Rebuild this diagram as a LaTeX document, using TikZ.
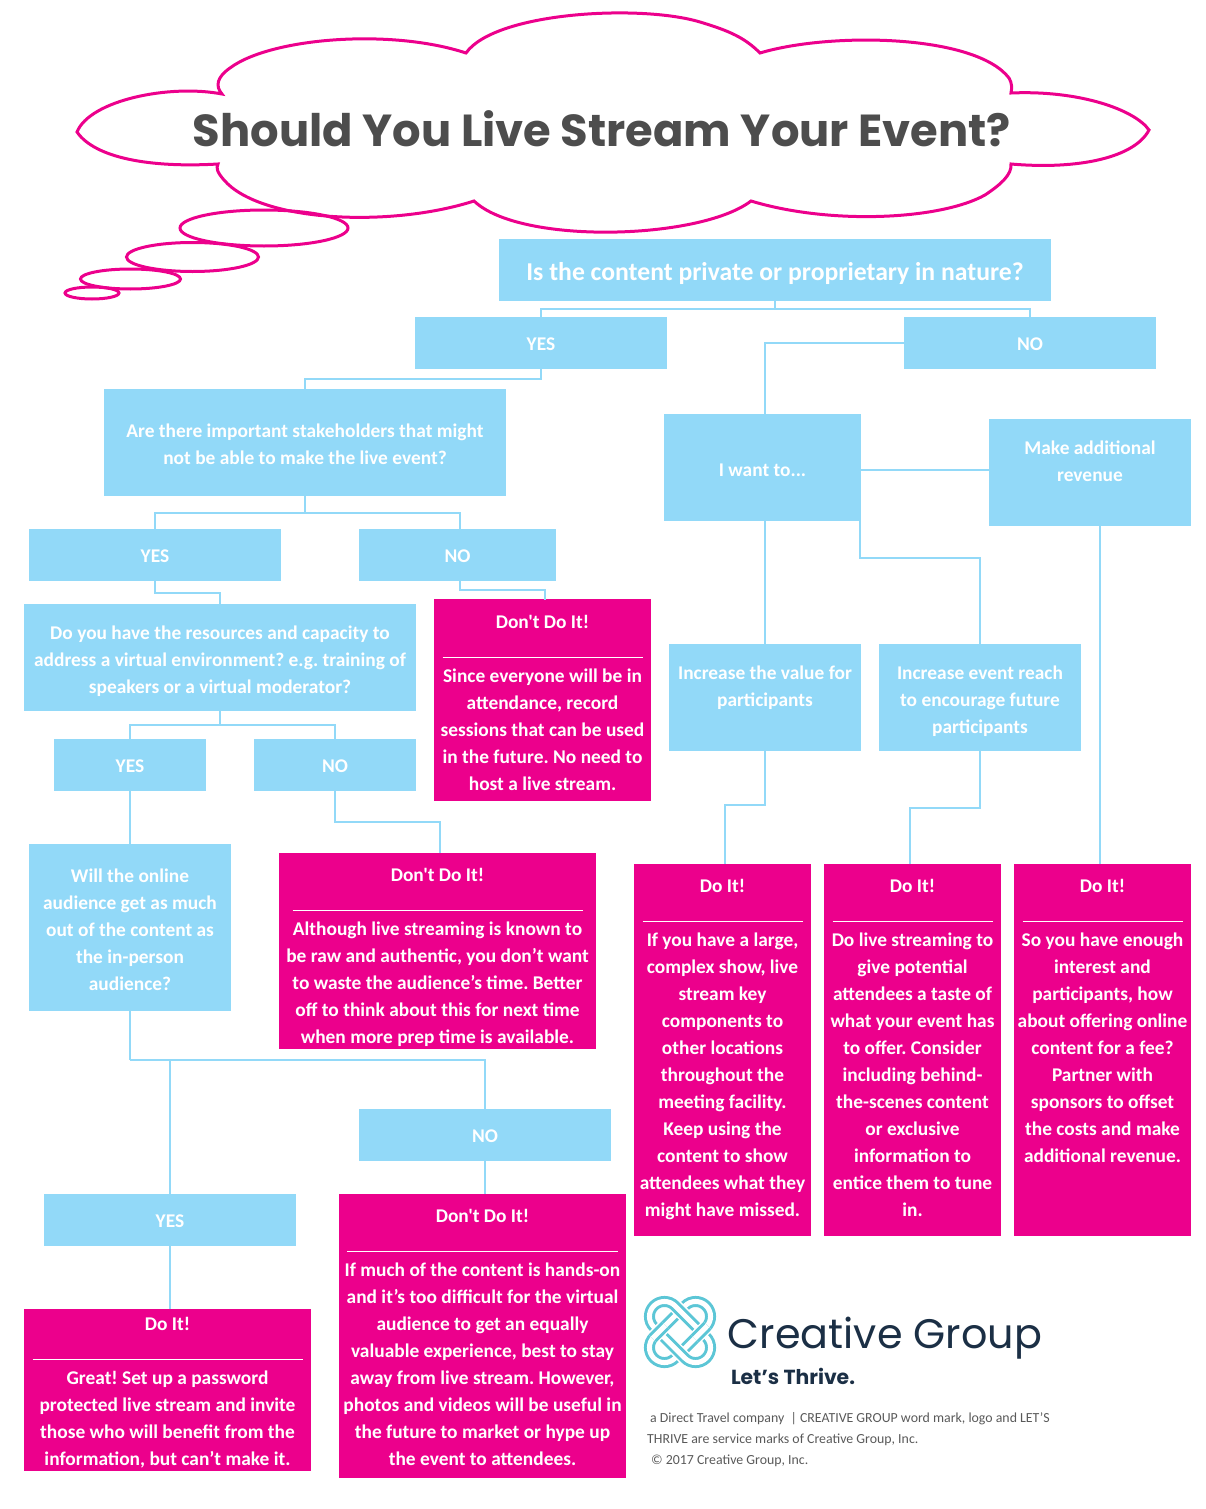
\documentclass[tikz,border=0pt]{standalone}
\usepackage{fontspec}
\setmainfont{Carlito}[Ligatures=TeXOff]
\newfontfamily\titlefont{Poppins}[WordSpace=1.6]
\newfontfamily\brandfont{Poppins}
\usetikzlibrary{calc}
\definecolor{skyb}{HTML}{92D9F8}
\definecolor{hotp}{HTML}{EC008C}
\definecolor{titleg}{HTML}{4D4D4D}
\definecolor{navyt}{HTML}{1B2F45}
\definecolor{tealk}{HTML}{5CC6D6}
\definecolor{footg}{HTML}{595959}
\tikzset{
  bluebox/.style={fill=skyb,text=white,font=\bfseries,inner sep=0pt,rectangle},
  pinkbox/.style={fill=hotp,text=white,font=\bfseries,inner sep=0pt,rectangle},
  conn/.style={draw=skyb,line width=1.8pt},
  cloudline/.style={draw=hotp,line width=3pt,line join=miter},
  foot/.style={text=footg,font=\fontsize{13.85}{16}\selectfont,anchor=base west,inner sep=0pt},
  ring/.style={rounded corners=15pt},
}
% style, name, x1, y1, x2, y2, centre y of first line, text
\newcommand{\bx}[8]{%
  \pgfmathsetmacro{\bxw}{#5-#3}%
  \pgfmathsetmacro{\bxh}{#6-#4}%
  \pgfmathsetmacro{\bxd}{#7+7-#4}%
  \node[#1] (#2) at ({(#3+#5)/2},{(#4+#6)/2}) {\parbox[c][\bxh pt][t]{\bxw pt}{\centering\frenchspacing\fontsize{19.4}{27}\selectfont\rule{0pt}{\bxd pt}#8\par}};%
}
\newcommand{\hr}[1]{\rule[-3pt]{#1pt}{1.3pt}}
\begin{document}
\begin{tikzpicture}[x=1pt,y=-1pt]
\useasboundingbox (0,0) rectangle (1205,1509);
% thought bubble
\draw[cloudline] (222,94) .. controls (215,86) and (217,77) .. (230,68)
  .. controls (270,38) and (390,28) .. (466,53)
  .. controls (495,12) and (640,4) .. (700,22)
  .. controls (730,31) and (745,38) .. (760,53)
  .. controls (830,32) and (975,34) .. (1009,78)
  .. controls (1012,83) and (1012,88) .. (1011,93)
  .. controls (1080,90) and (1135,110) .. (1149,130)
  .. controls (1135,157) and (1080,170) .. (1011,164)
  .. controls (1012,175) and (1000,185) .. (985,195)
  .. controls (940,220) and (830,225) .. (751,201)
  .. controls (700,240) and (520,245) .. (474,201)
  .. controls (390,228) and (260,222) .. (224,180)
  .. controls (217,172) and (216,168) .. (218,164)
  .. controls (150,168) and (95,158) .. (77,132)
  .. controls (90,100) and (170,84) .. (222,94) -- cycle;
\draw[cloudline] (264,228) ellipse [x radius=84,y radius=18];
\draw[cloudline] (192.5,257) ellipse [x radius=66,y radius=14.5];
\draw[cloudline] (130.5,279) ellipse [x radius=50,y radius=10];
\draw[cloudline] (92,293) ellipse [x radius=27,y radius=6];
\node[text=titleg,inner sep=0pt] (title) at (602,129) {\resizebox{818pt}{!}{\titlefont\bfseries Should You Live Stream Your Event?}};
% decisions
\bx{bluebox}{q1}{499}{239}{1051}{301}{273}{{\fontsize{25.7}{27}\selectfont Is the content private or proprietary in nature?\par}}
\bx{bluebox}{yes1}{415}{317}{667}{369}{343}{YES}
\bx{bluebox}{no1}{904}{317}{1156}{369}{343}{NO}
\bx{bluebox}{q2}{104}{389}{506}{496}{430}{Are there important stakeholders that might\\not be able to make the live event?}
\bx{bluebox}{iwant}{664}{414}{861}{521}{469}{I want to...}
\bx{bluebox}{make}{989}{419}{1191}{526}{447}{Make additional\\revenue}
\bx{bluebox}{yes2}{29}{529}{281}{581}{555}{YES}
\bx{bluebox}{no2}{359}{529}{556}{581}{555}{NO}
\bx{bluebox}{q3}{24}{604}{416}{711}{632}{Do you have the resources and capacity to\\address a virtual environment? e.g. training of\\speakers or a virtual moderator?}
\bx{bluebox}{value}{669}{644}{861}{751}{672}{Increase the value for\\participants}
\bx{bluebox}{reach}{879}{644}{1081}{751}{672}{Increase event reach\\to encourage future\\participants}
\bx{bluebox}{yes3}{54}{739}{206}{791}{765}{YES}
\bx{bluebox}{no3}{254}{739}{416}{791}{765}{NO}
\bx{bluebox}{q4}{29}{844}{231}{1011}{875}{Will the online\\audience get as much\\out of the content as\\the in-person\\audience?}
\bx{bluebox}{no4}{359}{1109}{611}{1161}{1135}{NO}
\bx{bluebox}{yes4}{44}{1194}{296}{1246}{1220}{YES}
% verdicts
\bx{pinkbox}{dont1}{434}{599}{651}{801}{621}{Don't Do It!\\\hr{200}\\Since everyone will be in\\attendance, record\\sessions that can be used\\in the future. No need to\\host a live stream.}
\bx{pinkbox}{dont2}{279}{853}{596}{1049}{874}{Don't Do It!\\\hr{290}\\Although live streaming is known to\\be raw and authentic, you don’t want\\to waste the audience’s time. Better\\off to think about this for next time\\when more prep time is available.}
\bx{pinkbox}{doit1}{634}{864}{811}{1236}{885}{Do It!\\\hr{160}\\If you have a large,\\complex show, live\\stream key\\components to\\other locations\\throughout the\\meeting facility.\\Keep using the\\content to show\\attendees what they\\might have missed.}
\bx{pinkbox}{doit2}{824}{864}{1001}{1236}{885}{Do It!\\\hr{160}\\Do live streaming to\\give potential\\attendees a taste of\\what your event has\\to offer. Consider\\including behind-\\the-scenes content\\or exclusive\\information to\\entice them to tune\\in.}
\bx{pinkbox}{doit3}{1014}{864}{1191}{1236}{885}{Do It!\\\hr{160}\\So you have enough\\interest and\\participants, how\\about offering online\\content for a fee?\\Partner with\\sponsors to offset\\the costs and make\\additional revenue.}
\bx{pinkbox}{dont3}{339}{1194}{626}{1478}{1215}{Don't Do It!\\\hr{271}\\If much of the content is hands-on\\and it’s too difficult for the virtual\\audience to get an equally\\valuable experience, best to stay\\away from live stream. However,\\photos and videos will be useful in\\the future to market or hype up\\the event to attendees.}
\bx{pinkbox}{doit4}{24}{1309}{311}{1471}{1323}{Do It!\\\hr{270}\\Great! Set up a password\\protected live stream and invite\\those who will benefit from the\\information, but can’t make it.}
% connectors
\draw[conn] (q1.south) -- ++(0,8) coordinate (s1);
\draw[conn] (yes1.north) |- (s1) -| (no1.north);
\draw[conn] (yes1.south) -- ++(0,10) -| (q2.north);
\coordinate (ix) at (765,0);
\draw[conn] (no1.west) -| (ix |- iwant.north);
\coordinate (ie) at (861,470);
\draw[conn] (ie) -- (ie -| make.west);
\draw[conn] (ix |- iwant.south) -- (ix |- value.north);
\draw[conn] ($(iwant.south east)+(-1,0)$) -- ++(0,37) -| (reach.north);
\coordinate (mx) at (1100,0);
\draw[conn] (mx |- make.south) -- (mx |- doit3.north);
\draw[conn] (value.south) -- ++(0,54) -| ($(doit1.north)+(2.5,0)$);
\draw[conn] (reach.south) -- ++(0,57) -| ($(doit2.north)+(-2.5,0)$);
\draw[conn] (q2.south) -- ++(0,17) coordinate (s2);
\coordinate (n2x) at (460,0);
\draw[conn] (yes2.north) |- (s2) -| (n2x |- no2.north);
\draw[conn] (yes2.south) -- ++(0,12) -| (q3.north);
\draw[conn] (n2x |- no2.south) -- ++(0,9) -| ($(dont1.north)+(2.5,1)$);
\draw[conn] (q3.south) -- ++(0,14) coordinate (s3);
\draw[conn] (yes3.north) |- (s3) -| (no3.north);
\draw[conn] (yes3.south) -- (q4.north);
\draw[conn] (no3.south) -- ++(0,31) -| ($(dont2.north)+(2.5,0)$);
\draw[conn] (q4.south) -- ++(0,49) coordinate (s4);
\draw[conn] (s4) -| (no4.north);
\draw[conn] (s4 -| yes4.north) -- (yes4.north);
\draw[conn] (no4.south) -- (no4.south |- dont3.north);
\draw[conn] (yes4.south) -- (yes4.south |- doit4.north);
% logo knot
\begin{scope}[shift={(680,1332)},rotate=45]
  \draw[white,line width=14pt,ring] (-37,-15) rectangle (37,15);
  \draw[tealk,line width=11pt,ring] (-37,-15) rectangle (37,15);
  \draw[white,line width=5pt,ring] (-37,-15) rectangle (37,15);
  \begin{scope}[rotate=90]
    \draw[white,line width=14pt,ring] (-37,-15) rectangle (37,15);
    \draw[tealk,line width=11pt,ring] (-37,-15) rectangle (37,15);
    \draw[white,line width=5pt,ring] (-37,-15) rectangle (37,15);
  \end{scope}
  \begin{scope}
    \clip (6,6) rectangle (24,24);
    \draw[white,line width=14pt,ring] (-37,-15) rectangle (37,15);
    \draw[tealk,line width=11pt,ring] (-37,-15) rectangle (37,15);
    \draw[white,line width=5pt,ring] (-37,-15) rectangle (37,15);
  \end{scope}
  \begin{scope}
    \clip (-24,-24) rectangle (-6,-6);
    \draw[white,line width=14pt,ring] (-37,-15) rectangle (37,15);
    \draw[tealk,line width=11pt,ring] (-37,-15) rectangle (37,15);
    \draw[white,line width=5pt,ring] (-37,-15) rectangle (37,15);
  \end{scope}
\end{scope}
\node[text=navyt,inner sep=0pt] (brand) at (885,1338) {\resizebox{314pt}{!}{\brandfont Creative Group}};
\node[text=navyt,inner sep=0pt] (tag) at (793,1376) {\resizebox{124pt}{!}{\brandfont\bfseries Let’s Thrive.}};
\node[foot] (f1) at (650,1422) {a Direct Travel company \ | CREATIVE GROUP word mark, logo and LET’S};
\node[foot] (f2) at (647,1443) {THRIVE are service marks of Creative Group, Inc.};
\node[foot] (f3) at (651,1464) {© 2017 Creative Group, Inc.};
\end{tikzpicture}
\end{document}
